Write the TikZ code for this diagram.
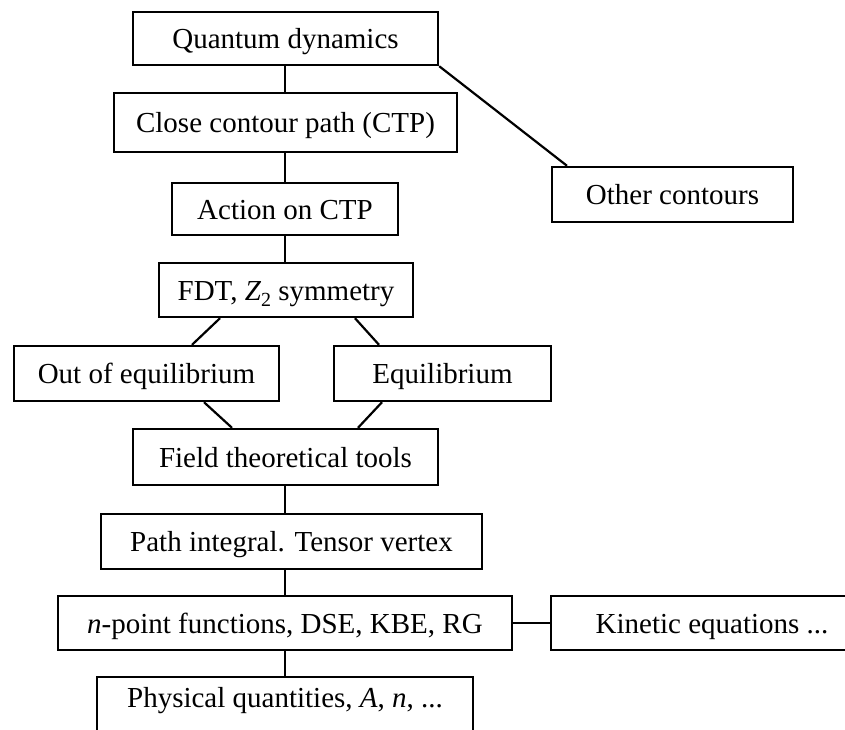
\documentclass[tikz,border=0pt]{standalone}
\usepackage{fontspec}
\setmainfont{Liberation Serif}
\usetikzlibrary{shadows}
\begin{document}
\begin{tikzpicture}[x=1pt,y=-1pt,
  box/.style={draw, fill=white, line width=2.4pt, inner sep=0pt,
    text height=20pt, text depth=0pt,
    font=\fontsize{29}{34}\selectfont,
    drop shadow={shadow xshift=1.2pt, shadow yshift=-1.2pt, opacity=1, fill=black}},
  link/.style={line width=2.2pt}]
\useasboundingbox (0,0) rectangle (845,729);
\clip (0,0) rectangle (845,729);

\node[box, minimum width=305pt, minimum height=53pt] (qd) at (285.5,38.5) {Quantum dynamics};
\node[box, minimum width=343pt, minimum height=59pt] (ctp) at (285.5,122.5) {Close contour path (CTP)};
\node[box, minimum width=241pt, minimum height=55pt] (other) at (672.5,194.5) {Other contours};
\node[box, minimum width=226pt, minimum height=52pt] (act) at (285,209) {Action on CTP};
\node[box, minimum width=254pt, minimum height=54pt] (fdt) at (286,290) {FDT, \textit{Z}\raisebox{-6pt}{\fontsize{20}{20}\selectfont 2} symmetry};
\node[box, minimum width=265pt, minimum height=55pt] (neq) at (146.5,373.5) {Out of equilibrium};
\node[box, minimum width=217pt, minimum height=55pt] (eq) at (442.5,373.5) {Equilibrium};
\node[box, minimum width=305pt, minimum height=56pt] (ftt) at (285.5,457) {Field theoretical tools};
\node[box, minimum width=381pt, minimum height=55pt] (pi) at (291.5,541.5) {Path integral. Tensor vertex};
\node[box, minimum width=454pt, minimum height=54pt] (npt) at (285,623) {\textit{n}-point functions, DSE, KBE, RG};
\node[box, minimum width=322pt, minimum height=54pt] (kin) at (712,623) {Kinetic equations ...};
\node[box, minimum width=376pt, minimum height=60pt, text depth=20pt] (phys) at (285,707) {Physical quantities, \textit{A}, \textit{n}, ...};

% main chain
\draw[link] (qd.south -| 285,0) -- (ctp.north -| 285,0);
\draw[link] (ctp.south -| 285,0) -- (act.north -| 285,0);
\draw[link] (act.south -| 285,0) -- (fdt.north -| 285,0);
\draw[link] (ftt.south -| 285,0) -- (pi.north -| 285,0);
\draw[link] (pi.south -| 285,0) -- (npt.north -| 285,0);
\draw[link] (npt.south -| 285,0) -- (phys.north -| 285,0);

% side branches
\draw[link] (qd.south east) -- (other.north west -| 567,0);
\draw[link] (npt.east) -- (kin.west);

% split and merge around the two regimes
\draw[link] (fdt.south -| 220,0) -- (neq.north -| 192,0);
\draw[link] (fdt.south -| 355,0) -- (eq.north -| 379,0);
\draw[link] (neq.south -| 204,0) -- (ftt.north -| 232,0);
\draw[link] (eq.south -| 382,0) -- (ftt.north -| 358,0);
\end{tikzpicture}
\end{document}
